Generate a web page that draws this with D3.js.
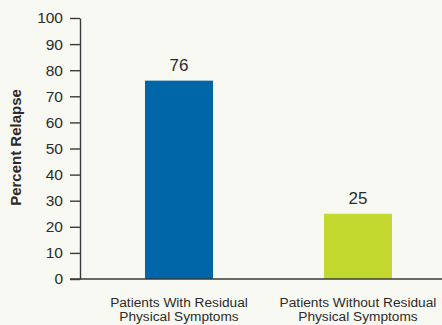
<!DOCTYPE html>
<html><head><meta charset="utf-8">
<script src="https://cdn.jsdelivr.net/npm/d3@7/dist/d3.min.js"></script>
<style>
html,body{margin:0;padding:0;background:#f9f9f3;}
svg{display:block;}
text{font-family:"Liberation Sans",Arial,sans-serif;fill:#2b2b2b;}
</style></head>
<body>
<svg id="c" width="442" height="325"></svg>
<script>
const categories = [["Patients With Residual","Physical Symptoms"],["Patients Without Residual","Physical Symptoms"]];
const values = [76, 25];
const colors = ["#0066a8", "#c3d92f"];
const yTicks = [0,10,20,30,40,50,60,70,80,90,100];
const yTitle = "Percent Relapse";

const svg = d3.select("#c");
const keys = categories.map(c => c.join(" "));
const y = d3.scaleLinear().domain([0,100]).range([279,18]);
const x = d3.scaleBand().domain(keys).range([80, 80 + 179*(2 - 0.62 + 2*0.363)]).paddingInner(0.62).paddingOuter(0.363);

svg.append("rect").attr("width",442).attr("height",325).attr("fill","#f9f9f3");

// bars
svg.selectAll("rect.bar").data(values).enter().append("rect").attr("class","bar")
  .attr("x",(d,i)=>x(keys[i])).attr("width",x.bandwidth())
  .attr("y",d=>y(d)).attr("height",d=>y(0)-y(d))
  .attr("fill",(d,i)=>colors[i]);

// value labels
svg.selectAll("text.val").data(values).enter().append("text").attr("class","val")
  .attr("x",(d,i)=>x(keys[i])+x.bandwidth()/2).attr("y",d=>y(d)-9.5)
  .attr("text-anchor","middle").attr("font-size",17).text(d=>d);

// y axis
const ya = svg.append("g").attr("transform","translate(80,0)")
  .call(d3.axisLeft(y).tickValues(yTicks).tickSize(10).tickSizeOuter(0).tickPadding(7));
ya.selectAll("path,line").attr("stroke","#3a3a3a").attr("stroke-width",1.4);
ya.selectAll("text").attr("font-size",15.5).attr("fill","#2b2b2b").attr("font-family","Liberation Sans, Arial, sans-serif");

// x baseline
svg.append("line").attr("x1",70).attr("x2",442).attr("y1",y(0)).attr("y2",y(0))
  .attr("stroke","#3a3a3a").attr("stroke-width",1.4);

// category labels
categories.forEach((c,i)=>{
  const t = svg.append("text").attr("text-anchor","middle").attr("font-size",13.7)
    .attr("x",x(keys[i])+x.bandwidth()/2).attr("y",306.5);
  c.forEach((line,j)=>t.append("tspan").attr("x",x(keys[i])+x.bandwidth()/2).attr("dy",j?14:0).text(line));
});

// y title
svg.append("text").attr("transform","translate(20.5,147.5) rotate(-90)").attr("text-anchor","middle")
  .attr("font-size",15).attr("font-weight","bold").text(yTitle);
</script>
</body></html>
